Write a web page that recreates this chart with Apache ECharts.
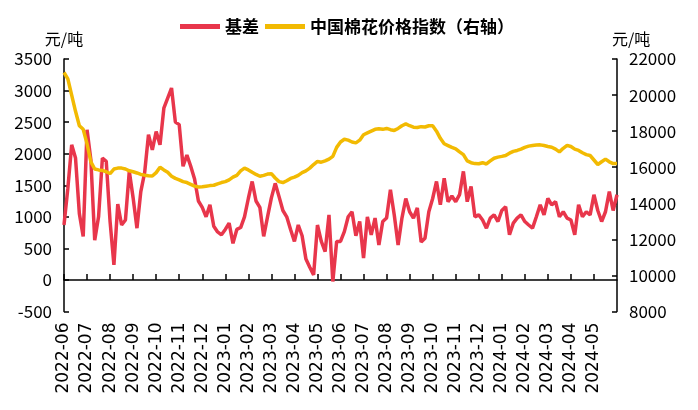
<!DOCTYPE html>
<html><head><meta charset="utf-8">
<script src="https://cdn.jsdelivr.net/npm/echarts@6/dist/echarts.min.js"></script>
<style>html,body{margin:0;padding:0;background:#fff}#c{width:698px;height:410px}</style>
</head><body><div id="c"></div>
<script>
// month labels and sampling days
const months = ['2022-06','2022-07','2022-08','2022-09','2022-10','2022-11','2022-12',
  '2023-01','2023-02','2023-03','2023-04','2023-05','2023-06','2023-07','2023-08','2023-09',
  '2023-10','2023-11','2023-12','2024-01','2024-02','2024-03','2024-04','2024-05'];
const sampleDays = ['01','06','11','16','21','26'];
const lastDate = '2024-05-31';

// 基差 (元/吨), left axis
const basis = [
  870,1450,2140,1930,1050,690,2380,1900,630,1000,1930,1880,925,240,1200,870,950,1720,
  1300,820,1400,1700,2300,2060,2350,2140,2720,2880,3040,2500,2460,1800,1980,1800,1600,1250,
  1150,1000,1190,850,760,715,800,900,580,800,830,1000,1290,1560,1250,1150,690,1000,
  1300,1530,1320,1100,1000,800,610,870,700,330,200,80,870,610,450,1030,-25,610,
  610,765,1000,1080,700,925,345,1000,715,980,555,925,980,1430,1030,555,980,1290,
  1080,980,1140,600,660,1080,1290,1560,1190,1610,1240,1330,1240,1350,1720,1240,1480,1000,
  1030,950,820,980,1030,925,1100,1160,715,900,980,1030,925,870,820,1000,1190,1030,
  1290,1190,1240,1000,1080,980,950,715,1190,1000,1080,1030,1350,1100,925,1080,1400,1100,1350
];
// 中国棉花价格指数 (元/吨), right axis
const cottonIndex = [
  21250,20900,20000,19100,18300,18100,17300,16300,15900,15850,15820,15750,15650,15900,15950,15950,15900,15800,
  15750,15680,15600,15560,15530,15510,15700,16000,15850,15720,15500,15380,15300,15200,15150,15050,14950,14900,
  14920,14950,14980,15000,15080,15150,15200,15300,15450,15550,15800,15950,15850,15720,15600,15500,15550,15620,
  15640,15400,15200,15150,15250,15380,15450,15550,15700,15800,15950,16150,16320,16280,16350,16450,16600,17100,
  17400,17550,17500,17400,17350,17500,17800,17900,18000,18100,18130,18100,18150,18080,18040,18150,18300,18400,
  18300,18220,18200,18250,18230,18300,18300,18000,17600,17300,17200,17100,17020,16850,16700,16350,16250,16200,
  16190,16250,16180,16350,16500,16560,16600,16650,16780,16880,16930,17000,17100,17170,17200,17230,17240,17200,
  17150,17110,17000,16850,17050,17210,17150,17000,16930,16800,16700,16650,16400,16150,16300,16450,16300,16200,16200
];
const leftTicks = {min:-500, max:3500, interval:500};
const rightTicks = {min:8000, max:22000, interval:2000};

const dates = [];
months.forEach(m => sampleDays.forEach(d => dates.push(m + '-' + d)));
dates.push(lastDate);

const isMonthStart = (i, v) => v.endsWith('-01');
const plain = v => String(v);
const cjk = 'Noto Sans CJK SC';
const chart = echarts.init(document.getElementById('c'));
chart.setOption({
  animation: false,
  backgroundColor: '#fff',
  grid: {left: 64, right: 81, top: 59, bottom: 98.5},
  legend: {
    left: 175, top: 13, itemWidth: 40, itemHeight: 5, itemGap: 6,
    icon: 'rect',
    textStyle: {fontFamily: cjk, fontSize: 17, fontWeight: 'bold', color: '#000'},
    data: ['基差', '中国棉花价格指数（右轴）']
  },
  xAxis: [{
    type: 'category', data: dates, boundaryGap: false,
    axisLine: {show: false, onZero: false}, axisTick: {show: false},
    axisLabel: {interval: isMonthStart, rotate: 90, margin: 11,
      formatter: v => v.slice(0, 7),
      fontFamily: 'DejaVu Sans', fontSize: 17, color: '#000'},
    splitLine: {show: false}
  }, {
    type: 'category', data: dates, boundaryGap: false, position: 'bottom',
    axisLine: {show: true, onZero: true, onZeroAxisIndex: 0, lineStyle: {color: '#000', width: 1.5}},
    axisTick: {show: true, inside: true, length: 6, interval: isMonthStart, lineStyle: {color: '#000', width: 1.5}},
    axisLabel: {show: false},
    splitLine: {show: false}
  }],
  yAxis: [{
    type: 'value', min: leftTicks.min, max: leftTicks.max, interval: leftTicks.interval,
    name: '元/吨', nameGap: 12,
    nameTextStyle: {fontFamily: cjk, fontSize: 16, color: '#000'},
    axisLine: {show: true, lineStyle: {color: '#000', width: 1.5}},
    axisTick: {show: true, inside: true, length: 5, lineStyle: {color: '#000', width: 1.5}},
    axisLabel: {fontFamily: cjk, fontSize: 17, color: '#000', margin: 12, formatter: plain},
    splitLine: {show: false}
  }, {
    type: 'value', min: rightTicks.min, max: rightTicks.max, interval: rightTicks.interval,
    position: 'right',
    name: '元/吨', nameGap: 12,
    nameTextStyle: {fontFamily: cjk, fontSize: 16, color: '#000', align: 'left', padding: [0,0,0,-5]},
    axisLine: {show: true, lineStyle: {color: '#000', width: 1.5}},
    axisTick: {show: true, inside: true, length: 5, lineStyle: {color: '#000', width: 1.5}},
    axisLabel: {fontFamily: cjk, fontSize: 17, color: '#000', margin: 12, formatter: plain},
    splitLine: {show: false}
  }],
  series: [{
    name: '基差', type: 'line', xAxisIndex: 0, yAxisIndex: 0, data: basis,
    showSymbol: false, symbol: 'none', color: '#E8364B',
    lineStyle: {width: 3.5, color: '#E8364B'}, z: 2
  }, {
    name: '中国棉花价格指数（右轴）', type: 'line', xAxisIndex: 0, yAxisIndex: 1, data: cottonIndex,
    showSymbol: false, symbol: 'none', color: '#F2BA02',
    lineStyle: {width: 3.5, color: '#F2BA02'}, z: 3
  }]
});
</script></body></html>
